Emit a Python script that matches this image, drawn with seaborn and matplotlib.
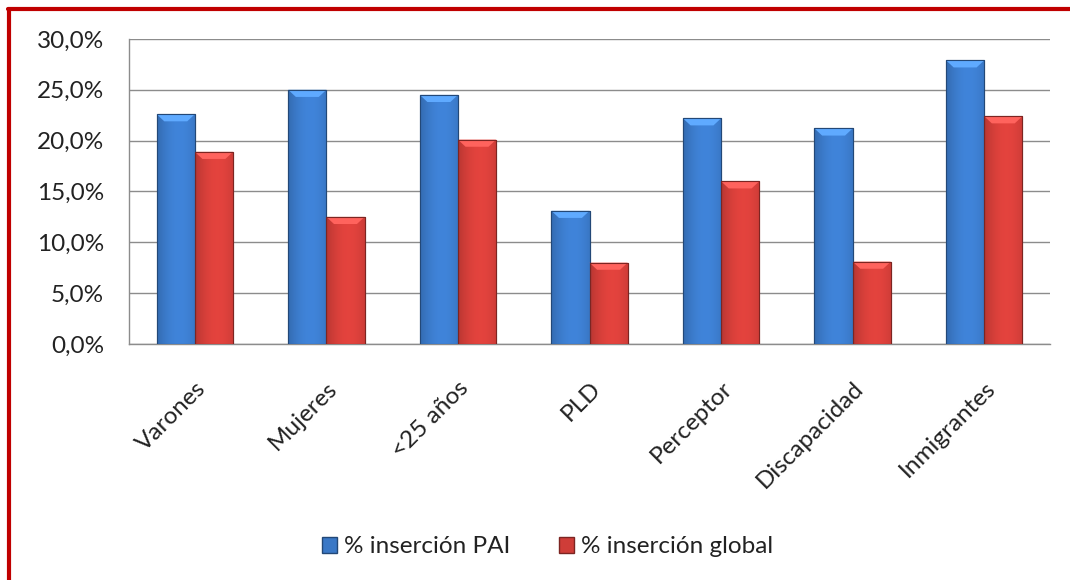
import numpy as np
import pandas as pd
import matplotlib
matplotlib.use("Agg")
import matplotlib.pyplot as plt
import matplotlib.colors as mcolors
from matplotlib.lines import Line2D
from matplotlib.ticker import FuncFormatter, FixedLocator
import seaborn as sns

categorias = ["Varones", "Mujeres", "<25 años", "PLD", "Perceptor", "Discapacidad", "Inmigrantes"]
insercion_pai = [22.6, 25.0, 24.5, 13.1, 22.2, 21.2, 27.9]
insercion_global = [18.9, 12.5, 20.1, 8.0, 16.0, 8.1, 22.4]
series = ["% inserción PAI", "% inserción global"]
colores = ["#3a78c6", "#cf3d38"]

df = pd.DataFrame({"categoria": categorias, series[0]: insercion_pai, series[1]: insercion_global})
df = df.melt(id_vars="categoria", var_name="serie", value_name="valor")

sns.set_style("white")
plt.rcParams["font.family"] = ["Lato", "DejaVu Sans"]

fig = plt.figure(figsize=(10.7, 5.8), dpi=100)
ax = fig.add_axes([0.1206, 0.4069, 0.8607, 0.5259])

sns.barplot(data=df, x="categoria", y="valor", hue="serie", palette=colores,
            width=0.58, ax=ax, legend=False, saturation=1, zorder=3)

# efecto degradado tipo Excel sobre cada barra
def degradado(color):
    base = np.array(mcolors.to_rgb(color))
    t = np.linspace(0, 1, 64)
    perfil = 0.72 + 0.38 * np.sin(np.pi * (0.15 + 0.6 * t))
    img = np.clip(base[None, :] * perfil[:, None], 0, 1)
    return img[None, :, :]

for p in ax.patches:
    x0, y0 = p.get_x(), p.get_y()
    w, h = p.get_width(), p.get_height()
    if h <= 0:
        continue
    col = p.get_facecolor()
    im = ax.imshow(degradado(col), extent=[x0, x0 + w, y0, y0 + h], aspect="auto",
                   zorder=4, interpolation="bicubic")
    im.set_clip_path(p)
    oscuro = np.array(mcolors.to_rgb(col)) * 0.6
    p.set_edgecolor(oscuro)
    p.set_linewidth(0.8)
    # bisel superior
    bh = 0.7
    top = plt.Polygon([[x0, y0 + h], [x0 + w, y0 + h], [x0 + w * 0.8, y0 + h - bh], [x0 + w * 0.2, y0 + h - bh]],
                      closed=True, facecolor=np.clip(np.array(mcolors.to_rgb(col)) * 1.2 + 0.1, 0, 1),
                      edgecolor="none", zorder=5)
    ax.add_patch(top)
    ax.add_patch(plt.Rectangle((x0, y0), w, h, fill=False, edgecolor=oscuro, linewidth=0.8, zorder=6))

ax.set_xlim(-0.5, len(categorias) - 0.5)
ax.set_ylim(0, 30)
ax.set_yticks(np.arange(0, 31, 5))
ax.yaxis.set_major_formatter(FuncFormatter(lambda v, pos: f"{v:.1f}%".replace(".", ",")))
ax.grid(axis="y", color="#8c8c8c", linewidth=1, zorder=0)
ax.set_axisbelow(True)
for s in ["top", "right"]:
    ax.spines[s].set_visible(False)
for s in ["left", "bottom"]:
    ax.spines[s].set_color("#8c8c8c")
    ax.spines[s].set_linewidth(1)

ax.set_xlabel("")
ax.set_ylabel("")
ax.tick_params(axis="y", length=8, color="#8c8c8c", labelsize=17.5, labelcolor="#222222", pad=10)
ax.tick_params(axis="x", which="major", length=0, labelsize=17.5, labelcolor="#222222", pad=24)
ax.xaxis.set_minor_locator(FixedLocator(np.arange(-0.5, len(categorias), 1)))
ax.tick_params(axis="x", which="minor", length=8, color="#8c8c8c", direction="out")
plt.setp(ax.get_xticklabels(), rotation=45, ha="right", va="top", rotation_mode="anchor")

handles = [plt.Rectangle((0, 0), 1, 1, facecolor=c, edgecolor=np.array(mcolors.to_rgb(c)) * 0.6) for c in colores]
fig.legend(handles, series, loc="center", bbox_to_anchor=(0.512, 0.057), ncol=2, frameon=False,
           fontsize=17.5, handlelength=0.6, handleheight=0.6, handletextpad=0.3, columnspacing=2.0,
           labelcolor="#222222")

# marco rojo
fig.add_artist(Line2D([9 / 1070, 9 / 1070], [0, 1 - 9 / 580], color="#c00000", linewidth=3, transform=fig.transFigure))
fig.add_artist(Line2D([8 / 1070, 1], [1 - 9 / 580, 1 - 9 / 580], color="#c00000", linewidth=3, transform=fig.transFigure))

fig.savefig("out.png", dpi=100)
